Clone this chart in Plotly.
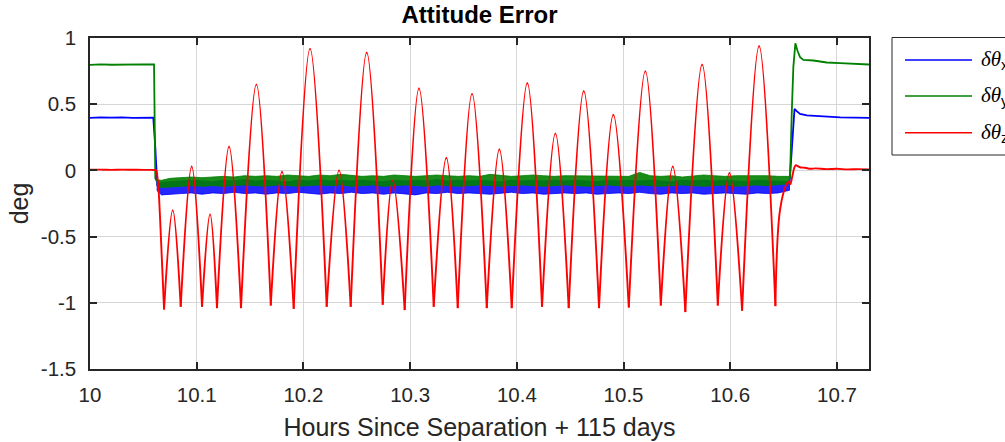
import plotly.graph_objects as go

# ---------------- data ----------------
# delta theta x (blue): level before / after the manoeuvre band
x_start_t = [10.0, 10.01, 10.02, 10.03, 10.04, 10.05, 10.0593, 10.0610, 10.0631]
x_start_v = [0.396, 0.400, 0.398, 0.401, 0.397, 0.400, 0.399, 0.20, -0.12]
x_end_t = [10.6555, 10.6575, 10.6592, 10.6602, 10.6620, 10.6654, 10.6717, 10.687, 10.703, 10.73]
x_end_v = [-0.10, 0.15, 0.42, 0.465, 0.45, 0.427, 0.415, 0.405, 0.400, 0.397]

# delta theta y (green)
y_start_t = [10.0, 10.01, 10.02, 10.03, 10.04, 10.05, 10.0600, 10.0612, 10.0625]
y_start_v = [0.797, 0.801, 0.798, 0.800, 0.799, 0.801, 0.800, -0.06, -0.08]
y_end_t = [10.6555, 10.6560, 10.6576, 10.6591, 10.6610, 10.6629, 10.6654, 10.6685, 10.6779, 10.6904, 10.7029, 10.73]
y_end_v = [-0.06, -0.05, 0.43, 0.78, 0.96, 0.905, 0.855, 0.835, 0.83, 0.815, 0.81, 0.80]

# noisy band during the manoeuvre (envelopes)
band_t = [10.0625, 10.067, 10.075, 10.085, 10.095, 10.105, 10.115, 10.125, 10.135, 10.145,
          10.155, 10.165, 10.175, 10.185, 10.195, 10.205, 10.215, 10.225, 10.235, 10.245,
          10.255, 10.265, 10.275, 10.285, 10.295, 10.305, 10.315, 10.325, 10.335, 10.345,
          10.355, 10.365, 10.375, 10.385, 10.395, 10.405, 10.415, 10.425, 10.435, 10.445,
          10.455, 10.465, 10.475, 10.485, 10.495, 10.505, 10.515, 10.525, 10.535, 10.545,
          10.555, 10.565, 10.575, 10.585, 10.595, 10.605, 10.615, 10.625, 10.635, 10.645,
          10.6555]
green_hi = [-0.070, -0.075, -0.060, -0.055, -0.050, -0.055, -0.050, -0.045, -0.050, -0.040,
            -0.045, -0.040, -0.045, -0.035, -0.040, -0.045, -0.035, -0.040, -0.030, -0.040,
            -0.045, -0.040, -0.045, -0.035, -0.040, -0.045, -0.040, -0.035, -0.040, -0.045,
            -0.040, -0.045, -0.030, -0.040, -0.045, -0.040, -0.035, -0.040, -0.045, -0.040,
            -0.040, -0.045, -0.040, -0.045, -0.040, -0.045, -0.015, -0.040, -0.045, -0.040,
            -0.050, -0.040, -0.035, -0.040, -0.045, -0.040, -0.040, -0.035, -0.040, -0.045,
            -0.045]
green_lo = [-0.110, -0.130, -0.125, -0.120, -0.115, -0.120, -0.115, -0.120, -0.115, -0.110,
            -0.115, -0.120, -0.110, -0.115, -0.120, -0.115, -0.110, -0.115, -0.110, -0.120,
            -0.115, -0.110, -0.120, -0.115, -0.110, -0.115, -0.120, -0.110, -0.115, -0.120,
            -0.115, -0.110, -0.115, -0.120, -0.115, -0.110, -0.115, -0.120, -0.115, -0.110,
            -0.115, -0.120, -0.115, -0.110, -0.115, -0.120, -0.110, -0.115, -0.120, -0.115,
            -0.110, -0.115, -0.120, -0.115, -0.110, -0.120, -0.115, -0.110, -0.115, -0.110,
            -0.100]
blue_hi = [-0.100, -0.090, -0.085, -0.080, -0.075, -0.080, -0.085, -0.075, -0.080, -0.070,
           -0.080, -0.075, -0.080, -0.085, -0.075, -0.080, -0.070, -0.080, -0.075, -0.080,
           -0.075, -0.080, -0.085, -0.075, -0.080, -0.075, -0.080, -0.070, -0.080, -0.075,
           -0.080, -0.075, -0.080, -0.085, -0.075, -0.080, -0.075, -0.080, -0.075, -0.080,
           -0.075, -0.080, -0.085, -0.075, -0.080, -0.075, -0.080, -0.075, -0.080, -0.085,
           -0.075, -0.080, -0.075, -0.080, -0.075, -0.080, -0.085, -0.075, -0.080, -0.080,
           -0.085]
blue_lo = [-0.150, -0.185, -0.180, -0.175, -0.170, -0.180, -0.170, -0.175, -0.165, -0.175,
           -0.170, -0.180, -0.170, -0.175, -0.165, -0.175, -0.180, -0.170, -0.175, -0.165,
           -0.175, -0.170, -0.180, -0.170, -0.175, -0.185, -0.170, -0.175, -0.165, -0.175,
           -0.170, -0.175, -0.180, -0.170, -0.165, -0.175, -0.170, -0.180, -0.175, -0.170,
           -0.175, -0.170, -0.180, -0.175, -0.170, -0.175, -0.165, -0.175, -0.180, -0.170,
           -0.175, -0.170, -0.180, -0.175, -0.170, -0.175, -0.180, -0.170, -0.175, -0.170,
           -0.150]

# delta theta z (red): flat start, then arches between cusps
z_start_t = [10.0, 10.01, 10.02, 10.03, 10.04, 10.05, 10.056, 10.0605, 10.0619, 10.0640, 10.0656, 10.0675, 10.0694]
z_start_v = [0.005, 0.006, 0.004, 0.006, 0.005, 0.004, 0.004, 0.003, 0.0, -0.125, -0.35, -0.70, -1.05]
cusp_t = [10.0694, 10.0850, 10.1050, 10.1190, 10.1415, 10.1694, 10.1909, 10.2218, 10.2443, 10.2743,
          10.2949, 10.3221, 10.3446, 10.3718, 10.3952, 10.4236, 10.4486, 10.4770, 10.5049, 10.5349,
          10.5579, 10.5883, 10.6111, 10.6423]
cusp_v = [-1.05, -1.03, -1.03, -1.04, -1.04, -1.02, -1.045, -1.03, -1.03, -1.015,
          -1.055, -1.03, -1.04, -1.04, -1.04, -1.03, -1.04, -1.04, -1.035, -1.02,
          -1.07, -1.02, -1.06, -1.025]
peak_t = [10.0775, 10.0953, 10.1125, 10.1303, 10.1559, 10.1799, 10.2062, 10.2334, 10.2593, 10.2837,
          10.3083, 10.3339, 10.3580, 10.3836, 10.4098, 10.4361, 10.4627, 10.4904, 10.5204, 10.5461,
          10.5736, 10.5992, 10.6270]
peak_v = [-0.30, 0.03, -0.33, 0.18, 0.65, -0.01, 0.92, 0.00, 0.89, -0.075,
          0.62, 0.095, 0.58, 0.16, 0.66, 0.28, 0.60, 0.42, 0.75, 0.03,
          0.80, -0.02, 0.94]
z_end_t = [10.6423, 10.6466, 10.6529, 10.6545, 10.6562, 10.6580, 10.6600, 10.6615, 10.6635, 10.6660,
           10.670, 10.675, 10.680, 10.690, 10.700, 10.710, 10.720, 10.730]
z_end_v = [-1.025, -0.30, -0.10, -0.085, -0.105, -0.05, 0.02, 0.04, 0.03, 0.022,
           0.02, 0.012, 0.015, 0.01, 0.012, 0.008, 0.01, 0.008]

x_ticks = [10.0, 10.1, 10.2, 10.3, 10.4, 10.5, 10.6, 10.7]
x_tick_text = ["10", "10.1", "10.2", "10.3", "10.4", "10.5", "10.6", "10.7"]
y_ticks = [-1.5, -1.0, -0.5, 0.0, 0.5, 1.0]
y_tick_text = ["-1.5", "-1", "-0.5", "0", "0.5", "1"]
legend_names = ["x", "y", "z"]

# ---------------- build figure ----------------
BLUE, GREEN, RED = "#0000ff", "#008000", "#ff0000"
AX = "#262626"

fig = go.Figure()

# blue band + line
fig.add_trace(go.Scatter(x=band_t + band_t[::-1], y=blue_hi + blue_lo[::-1], mode="lines",
                         fill="toself", fillcolor="rgba(0,0,255,0.85)",
                         line=dict(color=BLUE, width=0.8), showlegend=False, hoverinfo="skip"))
fig.add_trace(go.Scatter(x=x_start_t + [None] + x_end_t, y=x_start_v + [None] + x_end_v,
                         mode="lines", line=dict(color=BLUE, width=1.8), showlegend=False))
# green band + line
fig.add_trace(go.Scatter(x=band_t + band_t[::-1], y=green_hi + green_lo[::-1], mode="lines",
                         fill="toself", fillcolor="rgba(0,128,0,0.9)",
                         line=dict(color=GREEN, width=0.8), showlegend=False, hoverinfo="skip"))
fig.add_trace(go.Scatter(x=y_start_t + [None] + y_end_t, y=y_start_v + [None] + y_end_v,
                         mode="lines", line=dict(color=GREEN, width=1.8), showlegend=False))
# red: arches drawn as separate smooth segments meeting at cusps
rx, ry = list(z_start_t), list(z_start_v)
for i in range(len(peak_t)):
    rx += [None, cusp_t[i], peak_t[i], cusp_t[i + 1]]
    ry += [None, cusp_v[i], peak_v[i], cusp_v[i + 1]]
rx += [None] + z_end_t
ry += [None] + z_end_v
fig.add_trace(go.Scatter(x=rx, y=ry, mode="lines", line=dict(color=RED, width=1.9, shape="spline"),
                         connectgaps=False, showlegend=False))

W, H = 1005, 442
L, R, T, B = 90, 869, 38, 369
pw, ph = R - L, B - T


def px(xp):
    return (xp - L) / pw


def py(yp):
    return (B - yp) / ph


shapes = [dict(type="rect", xref="paper", yref="paper", x0=px(892), x1=px(1030), y0=py(155), y1=py(37.5),
               line=dict(color=AX, width=1), fillcolor="white", layer="above")]
annotations = []
for name, col, yy in zip(legend_names, [BLUE, GREEN, RED], [60, 96, 132.7]):
    shapes.append(dict(type="line", xref="paper", yref="paper", x0=px(905), x1=px(972), y0=py(yy), y1=py(yy),
                       line=dict(color=col, width=1.6), layer="above"))
    annotations.append(dict(xref="paper", yref="paper", x=px(979), y=py(yy), xanchor="left", yanchor="middle",
                            showarrow=False, yshift=0,
                            text='<span style="font-family:Liberation Serif"><i>δθ</i></span><sub>' + name + '</sub>',
                            font=dict(family="Liberation Sans", size=21, color="black")))

fig.update_layout(
    width=W, height=H,
    margin=dict(l=L, r=W - R, t=T, b=H - B, autoexpand=False),
    paper_bgcolor="white", plot_bgcolor="white",
    showlegend=False,
    title=dict(text="<b>Attitude Error</b>", x=0.5, xref="paper", xanchor="center",
               y=1 - 15 / H, yref="container", yanchor="middle",
               font=dict(family="Liberation Sans", size=24, color="black")),
    font=dict(family="Liberation Sans", color=AX),
    shapes=shapes, annotations=annotations,
    xaxis=dict(range=[10.0, 10.73], tickvals=x_ticks, ticktext=x_tick_text, automargin=False,
               showline=True, linecolor=AX, linewidth=1.5, mirror="ticks",
               ticks="inside", ticklen=7, tickwidth=1.5, tickcolor=AX,
               showgrid=True, gridcolor="#d6d6d6", gridwidth=1, zeroline=False,
               tickfont=dict(family="Liberation Sans", size=20.5, color=AX), ticklabelstandoff=7,
               title=dict(text="Hours Since Separation + 115 days", standoff=13,
                          font=dict(family="Liberation Sans", size=25, color=AX))),
    yaxis=dict(range=[-1.5, 1.0], tickvals=y_ticks, ticktext=y_tick_text, automargin=False,
               showline=True, linecolor=AX, linewidth=1.5, mirror="ticks",
               ticks="inside", ticklen=7, tickwidth=1.5, tickcolor=AX,
               showgrid=True, gridcolor="#d6d6d6", gridwidth=1, zeroline=False,
               tickfont=dict(family="Liberation Sans", size=20.5, color=AX), ticklabelstandoff=8,
               title=dict(text="deg", standoff=5,
                          font=dict(family="Liberation Sans", size=25, color=AX))),
)

# the page's default 8px body margin would shift the figure; remove it
fig.write_html("out.html", config={"displayModeBar": False},
               post_script="document.body.style.margin='0px';document.body.style.overflow='hidden';")
